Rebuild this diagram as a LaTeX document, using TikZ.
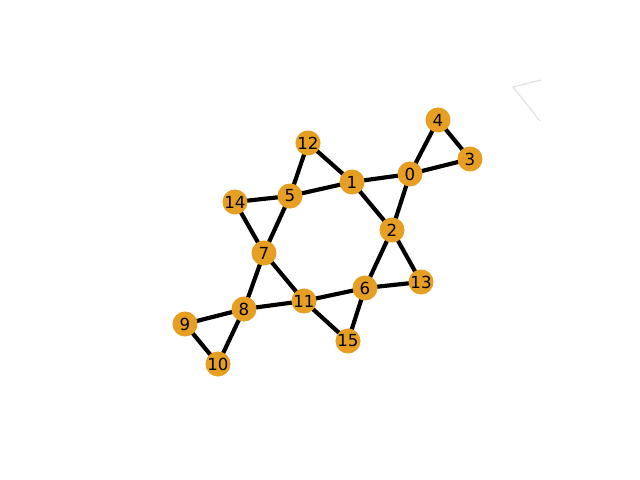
\documentclass[tikz,border=0pt]{standalone}
\usepackage{fontspec}
\setmainfont{DejaVu Sans}
\usepackage{xcolor}
\definecolor{vert}{HTML}{E69F22}
\definecolor{frame}{HTML}{E0E0E0}

\begin{document}
\begin{tikzpicture}[x=0.01in,y=-0.01in]
  \tikzset{vtx/.style={circle,fill=vert,inner sep=0pt,minimum size=0.25in,font=\fontsize{12}{12}\selectfont},
    edge/.style={line width=3pt}}
  \useasboundingbox (0,0) rectangle (640,480);
  % faint axes remnant
  \coordinate (c0) at (541,80);
  \coordinate (c1) at (513,87);
  \coordinate (c2) at (540,121);
  \draw[frame,line width=0.8pt] (c0)--(c1)--(c2);
  % vertices
  \foreach \n/\x/\y in {0/410/174,1/352/182,2/392/230,3/470/159,4/438/120,5/290/196,
      6/365/288,7/264/253,8/244/309,9/185/324,10/218/364,11/304/301,12/308/143,
      13/421/282,14/235/202,15/348/341}
    \coordinate (p\n) at (\x,\y);
  \foreach \a/\b in {0/4,4/3,3/0,0/1,0/2,1/2,1/12,12/5,5/1,5/14,14/7,5/7,7/8,7/11,
      8/11,8/9,9/10,10/8,11/6,11/15,15/6,6/2,6/13,13/2}
    \draw[edge] (p\a)--(p\b);
  \foreach \n in {0,...,15}
    \node[vtx] (v\n) at (p\n) {\n};
\end{tikzpicture}
\end{document}
